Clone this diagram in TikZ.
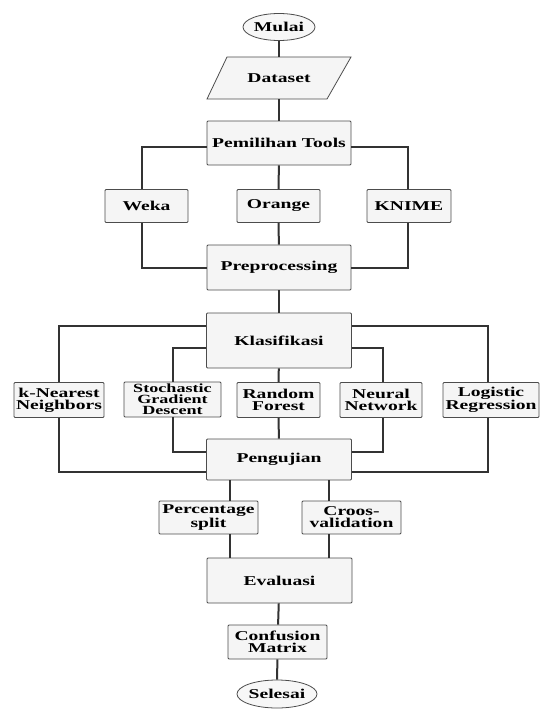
\documentclass[tikz,border=0pt]{standalone}
\usepackage{fontspec}
\setmainfont{Liberation Serif}[FakeStretch=1.45]
\usetikzlibrary{shapes.geometric}
\begin{document}
\begin{tikzpicture}[x=1pt,y=-1pt,
  every node/.style={font=\bfseries\fontsize{13.5}{12}\selectfont, align=center, inner sep=0pt},
  box/.style={draw=black!70, line width=0.8pt, fill=black!4, rounded corners=1pt, minimum width=#1},
  oval/.style={ellipse, draw=black!70, line width=0.8pt, fill=black!3},
  conn/.style={draw=black!80, line width=2pt}]
\useasboundingbox (0,0) rectangle (541,709);
% nodes
\node[oval, minimum width=72pt, minimum height=27pt] (mulai) at (279,27) {Mulai};
\node[minimum width=100pt, minimum height=42pt] (dataset) at (279,78) {};
\draw[draw=black!70, line width=0.8pt, fill=black!4]
  ([shift={(-72,21)}]dataset.center) -- ([shift={(48,21)}]dataset.center)
  -- ([shift={(72,-21)}]dataset.center) -- ([shift={(-52,-21)}]dataset.center) -- cycle;
\node (datasettext) at (dataset) {Dataset};
\node[box=144pt, minimum height=44pt] (pem) at (279,143) {Pemilihan Tools};
\node[box=83pt, minimum height=33pt] (weka) at (146.5,206) {Weka};
\node[box=83pt, minimum height=33pt] (orange) at (278.5,206) {Orange};
\node[box=84pt, minimum height=33pt] (knime) at (409,206) {KNIME};
\node[box=144pt, minimum height=45pt] (prep) at (279,267.5) {Preprocessing};
\node[box=145pt, minimum height=55pt] (klas) at (279,340.5) {Klasifikasi};
\node[box=90pt, minimum height=35pt] (knn) at (59,400) {k-Nearest\\Neighbors};
\node[box=97pt, minimum height=35pt, font=\bfseries\fontsize{12.5}{11.2}\selectfont] (sgd) at (172.5,399.5) {Stochastic\\Gradient\\Descent};
\node[box=83pt, minimum height=35pt] (rf) at (278.5,400) {Random\\Forest};
\node[box=82pt, minimum height=35pt] (nn) at (381,400) {Neural\\Network};
\node[box=96pt, minimum height=35pt] (lr) at (491,400) {Logistic\\Regression};
\node[box=145pt, minimum height=41pt] (peng) at (279,459.5) {Pengujian};
\node[box=99pt, minimum height=33pt] (pct) at (208.5,517.5) {Percentage\\split};
\node[box=99pt, minimum height=33pt] (cv) at (351.5,517.5) {Croos-\\validation};
\node[box=145pt, minimum height=45pt] (eval) at (279.5,580.5) {Evaluasi};
\node[box=99pt, minimum height=34pt] (cm) at (277.5,642) {Confusion\\Matrix};
\node[oval, minimum width=80pt, minimum height=28pt] (selesai) at (277,694) {Selesai};
% connectors
\path[conn] (mulai) -- (dataset);
\path[conn] (dataset) -- (pem);
\path[conn] ([yshift=-4pt]pem.west) -| ([xshift=-4.5pt]weka.north);
\path[conn] (pem) -- (orange);
\path[conn] ([yshift=-4pt]pem.east) -| ([xshift=-1pt]knime.north);
\path[conn] ([xshift=-4.5pt]weka.south) |- (prep.west);
\path[conn] (orange) -- (prep);
\path[conn] ([xshift=-1pt]knime.south) |- (prep.east);
\path[conn] (prep) -- (klas);
\path[conn] ([yshift=15pt]klas.west) -| (knn.north);
\path[conn] ([yshift=-7pt]klas.west) -| (sgd.north);
\path[conn] (klas) -- (rf);
\path[conn] ([yshift=-7pt]klas.east) -| ([xshift=2pt]nn.north);
\path[conn] ([yshift=15pt]klas.east) -| ([xshift=-3pt]lr.north);
\path[conn] (knn.south) |- ([yshift=-12.5pt]peng.west);
\path[conn] (sgd.south) |- ([yshift=7.5pt]peng.west);
\path[conn] (rf) -- (peng);
\path[conn] ([xshift=2pt]nn.south) |- ([yshift=7.5pt]peng.east);
\path[conn] ([xshift=-3pt]lr.south) |- ([yshift=-12.5pt]peng.east);
\path[conn] ([xshift=-49pt]peng.south) -- ([xshift=21.5pt]pct.north);
\path[conn] ([xshift=21.5pt]pct.south) -- ([xshift=-49.5pt]eval.north);
\path[conn] ([xshift=50pt]peng.south) -- ([xshift=-22.5pt]cv.north);
\path[conn] ([xshift=-22.5pt]cv.south) -- ([xshift=49.5pt]eval.north);
\path[conn] (eval) -- (cm);
\path[conn] (cm) -- (selesai);
\end{tikzpicture}
\end{document}
